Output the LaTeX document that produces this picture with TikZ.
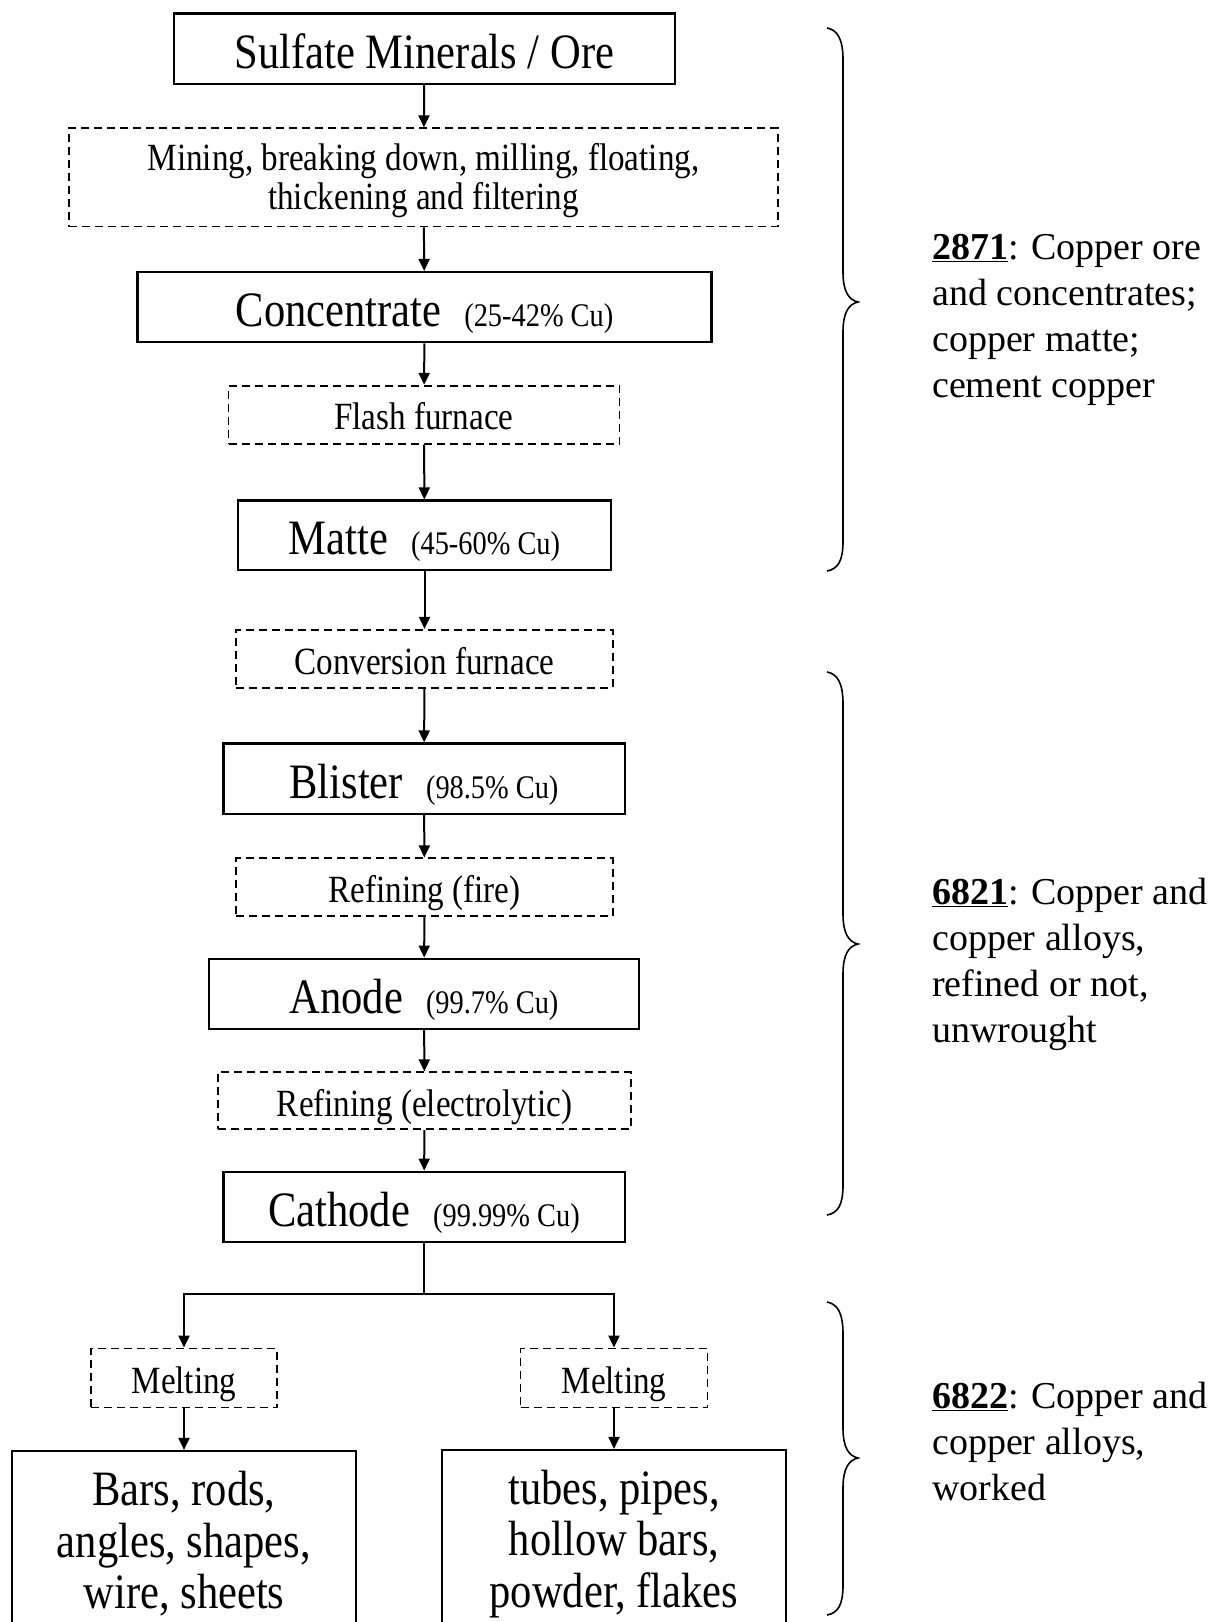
\documentclass[tikz,border=0pt]{standalone}
\usepackage{fontspec}
\setmainfont{Liberation Serif}
\newfontfamily\condfont[FakeStretch=0.86]{Liberation Serif}
\usetikzlibrary{arrows.meta}
\newcommand\mybigtext{\condfont\fontsize{49.5}{51.7}\selectfont}
\newcommand\mymidtext{\condfont\fontsize{38.5}{39.5}\selectfont}
\newcommand\mysmalltext{\condfont\fontsize{33}{35}\selectfont}
\newcommand\myrighttext{\fontsize{38}{46}\selectfont}
\begin{document}
\begin{tikzpicture}[x=1pt,y=-1pt,
  solidbox/.style={draw, line width=2.2pt, inner sep=0pt, align=center, font=\mybigtext},
  dashbox/.style={draw, line width=1.8pt, dash pattern=on 8pt off 5pt, inner sep=0pt, align=center, font=\mymidtext},
  bigline/.style={text height=45pt, text depth=6pt},
  midline/.style={text height=36pt, text depth=5.6pt},
  arr/.style={-{Triangle[length=12pt,width=11pt]}, line width=2pt},
  bracepath/.style={line width=1.6pt},
  sidetext/.style={anchor=north west, inner sep=0pt, align=left, font=\myrighttext}]
\fill[white] (0,0) rectangle (1212,1622);
\useasboundingbox (0,0) rectangle (1212,1622);

% main column
\node[solidbox, bigline, minimum width=501.6pt, minimum height=70.4pt] (ore) at (424.5,48.6) {Sulfate Minerals / Ore};
\node[dashbox, minimum width=708.3pt, minimum height=98.3pt] (mine) at (423.5,177.4) {\rule{0pt}{34pt}Mining, breaking down, milling, floating,\\thickening and filtering};
\node[solidbox, bigline, minimum width=574pt, minimum height=70.3pt] (conc) at (424.5,307.2) {Concentrate\hspace{23pt}{\mysmalltext (25-42\% Cu)}};
\node[dashbox, midline, minimum width=391pt, minimum height=58pt] (flash) at (424,414.7) {Flash furnace};
\node[solidbox, bigline, minimum width=373.4pt, minimum height=69.3pt] (matte) at (424.5,535.2) {Matte\hspace{23pt}{\mysmalltext (45-60\% Cu)}};
\node[dashbox, midline, minimum width=376.4pt, minimum height=58pt] (conv) at (424.5,658.8) {Conversion furnace};
\node[solidbox, bigline, minimum width=401.2pt, minimum height=70.3pt] (blister) at (424,778.7) {Blister\hspace{23pt}{\mysmalltext (98.5\% Cu)}};
\node[dashbox, midline, minimum width=376.4pt, minimum height=58pt] (fire) at (424.5,887.3) {Refining (fire)};
\node[solidbox, bigline, minimum width=430.2pt, minimum height=70.3pt] (anode) at (424,993.8) {Anode\hspace{23pt}{\mysmalltext (99.7\% Cu)}};
\node[dashbox, midline, minimum width=412.6pt, minimum height=57pt] (elec) at (424.5,1100.8) {Refining (electrolytic)};
\node[solidbox, bigline, minimum width=401.2pt, minimum height=70.3pt] (cath) at (424,1206.8) {Cathode\hspace{23pt}{\mysmalltext (99.99\% Cu)}};

% branches
\node[dashbox, midline, minimum width=186pt, minimum height=59pt] (meltL) at (184,1378) {Melting};
\node[dashbox, midline, minimum width=187pt, minimum height=59pt] (meltR) at (614,1378) {Melting};
\node[solidbox, minimum width=343.3pt, minimum height=182pt] (prodL) at (184,1542) {\rule{0pt}{38pt}Bars, rods,\\angles, shapes,\\wire, sheets};
\node[solidbox, minimum width=343.3pt, minimum height=184pt] (prodR) at (614,1542) {\rule{0pt}{38pt}tubes, pipes,\\hollow bars,\\powder, flakes};

% connectors
\draw[arr] (ore) -- (mine);
\draw[arr] (mine) -- (conc);
\draw[arr] (conc) -- (flash);
\draw[arr] (flash) -- (matte);
\draw[arr] (matte) -- (conv);
\draw[arr] (conv) -- (blister);
\draw[arr] (blister) -- (fire);
\draw[arr] (fire) -- (anode);
\draw[arr] (anode) -- (elec);
\draw[arr] (elec) -- (cath);
\coordinate (junc) at (424,1293.7);
\draw[line width=2pt] (cath.south) -- (junc);
\draw[arr] (junc) -| (meltL.north);
\draw[arr] (junc) -| (meltR.north);
\draw[arr] (meltL) -- (prodL);
\draw[arr] (meltR) -- (prodR);

% braces
\draw[bracepath] (827,28) .. controls (838,30) and (843,40) .. (843,60) -- (843,272)
  .. controls (843,292) and (849,300) .. (858,302) .. controls (849,304) and (843,312) .. (843,332)
  -- (843,541) .. controls (843,561) and (838,569) .. (827,571);
\draw[bracepath] (827,672) .. controls (838,674) and (843,684) .. (843,704) -- (843,914)
  .. controls (843,934) and (849,942) .. (858,944) .. controls (849,946) and (843,954) .. (843,974)
  -- (843,1185) .. controls (843,1205) and (838,1213) .. (827,1215);
\draw[bracepath] (827,1302) .. controls (838,1304) and (843,1314) .. (843,1334) -- (843,1428)
  .. controls (843,1448) and (849,1456) .. (858,1458) .. controls (849,1460) and (843,1468) .. (843,1488)
  -- (843,1585) .. controls (843,1605) and (838,1613) .. (827,1615);

% side texts
\node[sidetext] (t1) at (932,234) {\underline{\textbf{2871}}: Copper ore\\and concentrates;\\copper matte;\\cement copper};
\node[sidetext] (t2) at (932,878) {\underline{\textbf{6821}}: Copper and\\copper alloys,\\refined or not,\\unwrought};
\node[sidetext] (t3) at (932,1382) {\underline{\textbf{6822}}: Copper and\\copper alloys,\\worked};
\end{tikzpicture}
\end{document}
